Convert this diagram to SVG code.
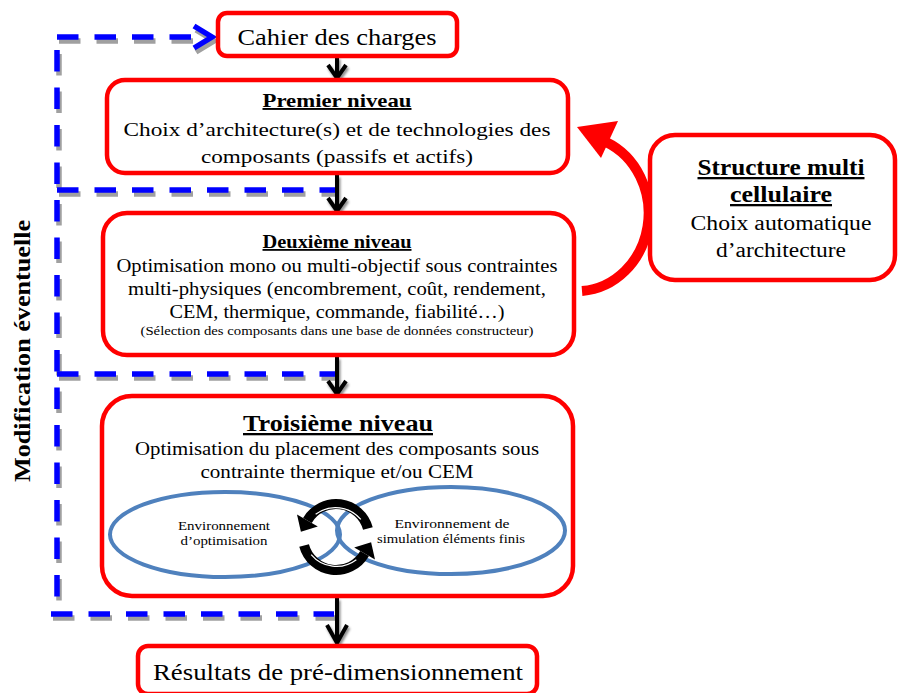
<svg xmlns="http://www.w3.org/2000/svg" width="899" height="693" viewBox="0 0 899 693" font-family="Liberation Serif, DejaVu Serif, Times New Roman, serif">
<style>
.box{fill:#fff;stroke:#f00;stroke-width:4.5}
.t{fill:#000;text-anchor:middle}
.b{font-weight:bold;text-decoration:underline}
.dash{fill:none;stroke:#00f;stroke-width:5.5;stroke-dasharray:21.5 16}
.dsh{fill:none;stroke:#a0a0a0;stroke-width:5.5;stroke-dasharray:21.5 16}
.arr{fill:none;stroke:#000;stroke-width:4;stroke-linejoin:miter}
.ell{fill:none;stroke:#4f81bd;stroke-width:4}
</style>
<defs>
<filter id="sh" x="-50%" y="-50%" width="200%" height="200%">
<feDropShadow dx="1.5" dy="2.5" stdDeviation="1.2" flood-color="#000" flood-opacity="0.45"/>
</filter>
</defs>

<g id="connectors">
<g id="feedback">
<g transform="translate(2,4)">
<path class="dsh" d="M57 37 H206"/>
<path class="dsh" d="M57 50 V614"/>
<path class="dsh" d="M57 190 H335"/>
<path class="dsh" d="M57 374 H335"/>
<path class="dsh" d="M51 614 H334"/>
<path fill="none" stroke="#a0a0a0" stroke-width="5.5" d="M194 26 L212 37 L194 48"/>
</g>
<path class="dash" d="M57 37 H206"/>
<path class="dash" d="M57 50 V614"/>
<path class="dash" d="M57 190 H335"/>
<path class="dash" d="M57 374 H335"/>
<path class="dash" d="M51 614 H334"/>
<path fill="none" stroke="#00f" stroke-width="5.5" d="M194 26 L212 37 L194 48"/>
</g>
<g id="flow" filter="url(#sh)">
<path class="arr" d="M337 57 V78 M328 65 L337 78 L346 65"/>
<path class="arr" d="M337 175 V211 M328 198 L337 211 L346 198"/>
<path class="arr" d="M337 357 V394 M328 381 L337 394 L346 381"/>
<path class="arr" d="M337 598 V643 M327 625 L337 643 L347 625"/>
</g>
<g id="auto-arrow">
<path d="M582 291 A72 78 0 0 0 606 142" fill="none" stroke="#f00" stroke-width="10"/>
<polygon points="577,127 618,121 601,158" fill="#f00"/>
</g>
</g>

<g id="cahier">
<rect class="box" x="218" y="13" width="239" height="43" rx="9"/>
<text class="t" x="337" y="45" font-size="23" textLength="199" lengthAdjust="spacingAndGlyphs">Cahier des charges</text>
</g>

<g id="premier">
<rect class="box" x="107" y="80" width="461" height="93" rx="18"/>
<text class="t b" x="337" y="107" font-size="19" textLength="149" lengthAdjust="spacingAndGlyphs">Premier niveau</text>
<text class="t" x="337" y="136" font-size="19" textLength="427" lengthAdjust="spacingAndGlyphs">Choix d’architecture(s) et de technologies des</text>
<text class="t" x="337" y="163" font-size="19" textLength="272" lengthAdjust="spacingAndGlyphs">composants (passifs et actifs)</text>
</g>

<g id="deuxieme">
<rect class="box" x="103" y="213" width="471" height="142" rx="24"/>
<text class="t b" x="337" y="248" font-size="18" textLength="149" lengthAdjust="spacingAndGlyphs">Deuxième niveau</text>
<text class="t" x="337" y="272" font-size="18" textLength="441" lengthAdjust="spacingAndGlyphs">Optimisation mono ou multi-objectif sous contraintes</text>
<text class="t" x="337" y="295" font-size="18" textLength="418" lengthAdjust="spacingAndGlyphs">multi-physiques (encombrement, coût, rendement,</text>
<text class="t" x="337" y="318" font-size="18" textLength="335" lengthAdjust="spacingAndGlyphs">CEM, thermique, commande, fiabilité…)</text>
<text class="t" x="337" y="335" font-size="11.5" textLength="393" lengthAdjust="spacingAndGlyphs">(Sélection des composants dans une base de données constructeur)</text>
</g>

<g id="troisieme">
<rect class="box" x="102" y="396" width="471" height="200" rx="30"/>
<text class="t b" x="338" y="431" font-size="23" textLength="190" lengthAdjust="spacingAndGlyphs">Troisième niveau</text>
<text class="t" x="337" y="455" font-size="18" textLength="404" lengthAdjust="spacingAndGlyphs">Optimisation du placement des composants sous</text>
<text class="t" x="337" y="478" font-size="18" textLength="273" lengthAdjust="spacingAndGlyphs">contrainte thermique et/ou CEM</text>
</g>

<g id="env-optimisation">
<ellipse class="ell" cx="225" cy="534.5" rx="115" ry="42.5"/>
<text class="t" x="224" y="530" font-size="13" textLength="92" lengthAdjust="spacingAndGlyphs">Environnement</text>
<text class="t" x="224" y="545" font-size="13" textLength="87" lengthAdjust="spacingAndGlyphs">d’optimisation</text>
</g>

<g id="env-simulation">
<ellipse class="ell" cx="451" cy="530.5" rx="114" ry="43.5"/>
<text class="t" x="452" y="528" font-size="13" textLength="115" lengthAdjust="spacingAndGlyphs">Environnement de</text>
<text class="t" x="451" y="543" font-size="13" textLength="148" lengthAdjust="spacingAndGlyphs">simulation éléments finis</text>
</g>

<g id="cycle">
<path d="M367.9 528.5 A33 33 0 0 0 307.4 520.5" fill="none" stroke="#000" stroke-width="10"/>
<path d="M366 528 A33 33 0 0 0 309 521" fill="none" stroke="#fff" stroke-width="1.2" stroke-dasharray="0 10 50 100"/>
<polygon points="297,514.5 317.8,526.5 300.9,531.8" fill="#000"/>
<path d="M304.1 545.5 A33 33 0 0 0 364.6 553.5" fill="none" stroke="#000" stroke-width="10"/>
<path d="M306 546 A33 33 0 0 0 363 553" fill="none" stroke="#fff" stroke-width="1.2" stroke-dasharray="0 10 50 100"/>
<polygon points="375,559.5 354.2,547.5 371.1,542.2" fill="#000"/>
</g>

<g id="structure">
<rect class="box" x="650" y="135" width="245" height="145" rx="25"/>
<text class="t b" x="781" y="175" font-size="23" textLength="167" lengthAdjust="spacingAndGlyphs">Structure multi</text>
<text class="t b" x="781" y="202" font-size="23" textLength="102" lengthAdjust="spacingAndGlyphs">cellulaire</text>
<text class="t" x="781" y="230" font-size="20" textLength="181" lengthAdjust="spacingAndGlyphs">Choix automatique</text>
<text class="t" x="781" y="257" font-size="20" textLength="130" lengthAdjust="spacingAndGlyphs">d’architecture</text>
</g>

<g id="resultats">
<rect class="box" x="138" y="646" width="399" height="48" rx="10"/>
<text class="t" x="338" y="680" font-size="24" textLength="370" lengthAdjust="spacingAndGlyphs">Résultats de pré-dimensionnement</text>
</g>

<g id="label-modification">
<text class="t" transform="translate(30,351) rotate(-90)" x="0" y="0" font-size="24" font-weight="bold" textLength="262" lengthAdjust="spacingAndGlyphs">Modification éventuelle</text>
</g>
</svg>
